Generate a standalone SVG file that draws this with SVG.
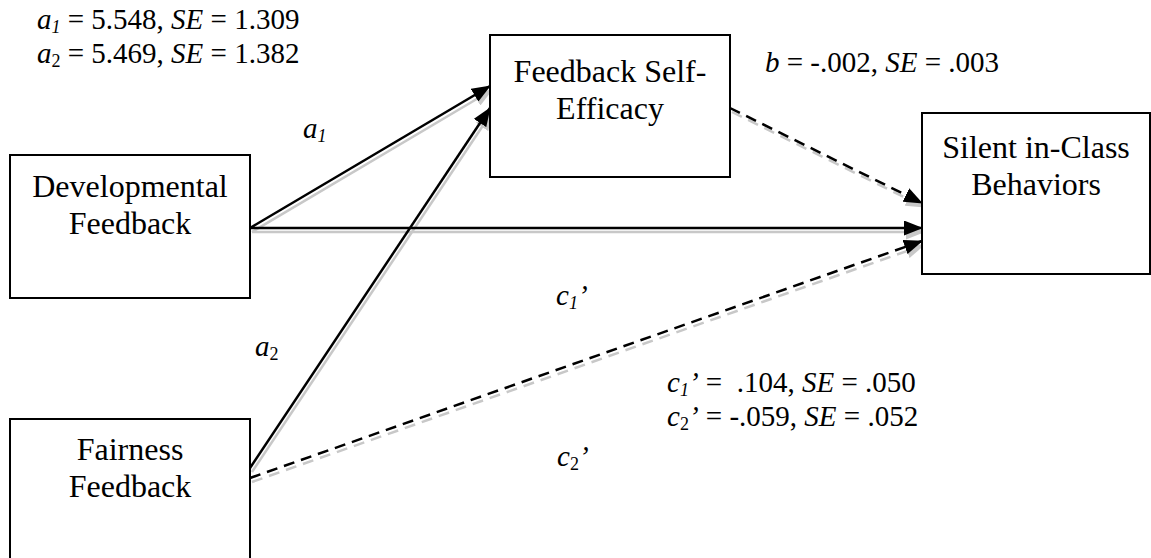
<svg xmlns="http://www.w3.org/2000/svg" width="1151" height="558" viewBox="0 0 1151 558">
<defs>
<style>
.box{fill:#fff;stroke:#000;stroke-width:2}
.nt{font-family:'Liberation Serif','Times New Roman',Times,serif;font-size:32px;fill:#000;text-anchor:middle}
.lb{font-family:'Liberation Serif','Times New Roman',Times,serif;font-size:29px;fill:#000;white-space:pre}
.it{font-style:italic}
.ln{fill:none;stroke:#000;stroke-width:2.5}
.sh{fill:none;stroke:#c8c8c8;stroke-width:2.5}
.ds{stroke-dasharray:11 7}
</style>
<marker id="ah" markerUnits="userSpaceOnUse" markerWidth="19" markerHeight="15" refX="18" refY="7.5" orient="auto" viewBox="0 0 19 15">
<path d="M0,0 L19,7.5 L0,15 z" fill="#000"/>
</marker>
<marker id="ahs" markerUnits="userSpaceOnUse" markerWidth="19" markerHeight="15" refX="18" refY="7.5" orient="auto" viewBox="0 0 19 15">
<path d="M0,0 L19,7.5 L0,15 z" fill="#c8c8c8"/>
</marker>
</defs>
<rect width="1151" height="558" fill="#fff"/>

<g id="connectors">
<g transform="translate(2,4)">
<line class="sh" x1="250" y1="228" x2="490" y2="86" marker-end="url(#ahs)"/>
<line class="sh" x1="250" y1="228" x2="922" y2="228" marker-end="url(#ahs)"/>
<line class="sh" x1="250" y1="468" x2="490" y2="108" marker-end="url(#ahs)"/>
<line class="sh ds" x1="250" y1="478" x2="922" y2="241" marker-end="url(#ahs)"/>
<line class="sh ds" x1="730" y1="108" x2="922" y2="203" marker-end="url(#ahs)"/>
</g>
<line class="ln" x1="250" y1="228" x2="490" y2="86" marker-end="url(#ah)"/>
<line class="ln" x1="250" y1="228" x2="922" y2="228" marker-end="url(#ah)"/>
<line class="ln" x1="250" y1="468" x2="490" y2="108" marker-end="url(#ah)"/>
<line class="ln ds" x1="250" y1="478" x2="922" y2="241" marker-end="url(#ah)"/>
<line class="ln ds" x1="730" y1="108" x2="922" y2="203" marker-end="url(#ah)"/>
</g>

<g id="node-developmental">
<rect class="box" x="10" y="155" width="240" height="143"/>
<text class="nt" x="130" y="197">Developmental</text>
<text class="nt" x="130" y="234">Feedback</text>
</g>

<g id="node-fairness">
<rect class="box" x="10" y="419" width="240" height="160"/>
<text class="nt" x="130" y="460">Fairness</text>
<text class="nt" x="130" y="497">Feedback</text>
</g>

<g id="node-selfefficacy">
<rect class="box" x="490" y="35" width="240" height="142"/>
<text class="nt" x="610" y="82">Feedback Self-</text>
<text class="nt" x="610" y="119">Efficacy</text>
</g>

<g id="node-silent">
<rect class="box" x="922" y="113" width="228" height="161"/>
<text class="nt" x="1036" y="158">Silent in-Class</text>
<text class="nt" x="1036" y="195">Behaviors</text>
</g>

<g id="labels">
<text class="lb" x="37" y="29" font-size="28"><tspan class="it">a</tspan><tspan class="it" font-size="18" dy="4">1</tspan><tspan dy="-4"> = 5.548, </tspan><tspan class="it">SE</tspan> = 1.309</text>
<text class="lb" x="37" y="63" font-size="28"><tspan class="it">a</tspan><tspan font-size="18" dy="4">2</tspan><tspan dy="-4"> = 5.469, </tspan><tspan class="it">SE</tspan> = 1.382</text>
<text class="lb" x="765" y="72"><tspan class="it">b</tspan> = -.002, <tspan class="it">SE</tspan> = .003</text>
<text class="lb" x="303" y="138"><tspan class="it">a</tspan><tspan class="it" font-size="18" dy="4">1</tspan></text>
<text class="lb" x="255" y="356"><tspan class="it">a</tspan><tspan font-size="18" dy="4">2</tspan></text>
<text class="lb" x="556" y="305"><tspan class="it">c</tspan><tspan class="it" font-size="18" dy="4">1</tspan><tspan class="it" dy="-4">’</tspan></text>
<text class="lb" x="557" y="466"><tspan class="it">c</tspan><tspan font-size="18" dy="4">2</tspan><tspan class="it" dy="-4">’</tspan></text>
<text class="lb" x="667" y="392"><tspan class="it">c</tspan><tspan class="it" font-size="18" dy="4">1</tspan><tspan class="it" dy="-4">’</tspan> =  .104, <tspan class="it">SE</tspan> = .050</text>
<text class="lb" x="667" y="426"><tspan class="it">c</tspan><tspan font-size="18" dy="4">2</tspan><tspan class="it" dy="-4">’</tspan> = -.059, <tspan class="it">SE</tspan> = .052</text>
</g>
</svg>
